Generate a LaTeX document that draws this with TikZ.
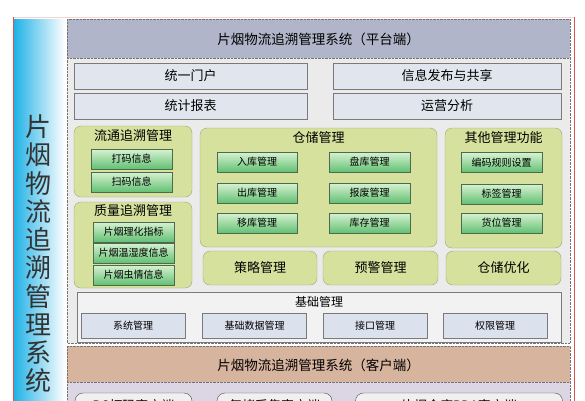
\documentclass[tikz,border=0pt]{standalone}
\usepackage{fontspec}
\newfontfamily\cjk{Noto Sans CJK SC}
\usetikzlibrary{positioning}
\definecolor{framered}{HTML}{D9534F}
\definecolor{framepink}{HTML}{F2D4D4}
\definecolor{sidecyan}{HTML}{22B2E6}
\definecolor{headblue}{HTML}{B1B5C9}
\definecolor{bodygray}{HTML}{EBEBEB}
\definecolor{topfill}{HTML}{E1E5EE}
\definecolor{boxline}{HTML}{7A7A7A}
\definecolor{panelgreen}{HTML}{D5E19C}
\definecolor{panelline}{HTML}{9AA67A}
\definecolor{subtop}{HTML}{D8F2D2}
\definecolor{subbot}{HTML}{62C073}
\definecolor{subline}{HTML}{4D6A50}
\definecolor{basefill}{HTML}{F2F2F2}
\definecolor{basesub}{HTML}{DCE1EE}
\definecolor{clienttan}{HTML}{D7B49E}
\definecolor{clientlav}{HTML}{DCD6E4}
\definecolor{clientbox}{HTML}{F1F0F1}
\begin{document}
\begin{tikzpicture}[x=1pt,y=-1pt,
    every node/.style={inner sep=0pt, outer sep=0pt, font=\cjk},
    topbox/.style={draw=boxline, fill=topfill, minimum height=26pt, font=\cjk\fontsize{13}{13}\selectfont},
    greenpanel/.style={draw=panelline, fill=panelgreen, rounded corners=7pt},
    paneltitle/.style={font=\cjk\fontsize{13}{13}\selectfont},
    subbox/.style={draw=subline, top color=subtop, bottom color=subbot, minimum width=81pt, minimum height=20pt, font=\cjk\fontsize{10}{10}\selectfont},
    basebox/.style={draw=boxline, fill=basesub, minimum width=104pt, minimum height=25pt, font=\cjk\fontsize{10}{10}\selectfont},
    clientnode/.style={draw=black!70, fill=clientbox, rounded corners=8pt, minimum height=26pt, font=\cjk\fontsize{13}{13}\selectfont}]
    \useasboundingbox (0,0) rectangle (585,400);
    \clip (0,0) rectangle (585,400);
    \fill[white] (0,0) rectangle (585,400);

    % outer frame and side column
    \shade[left color=sidecyan, right color=white] (14,19) rectangle (65,420);
    \draw[framepink] (13,17) -- (574,17);
    \draw[framered] (13,17) -- (13,420);
    \draw[framered] (574,17) -- (574,420);
    \foreach \c [count=\i from 0] in {片,烟,物,流,追,溯,管,理,系,统}
        \node[font=\cjk\fontsize{26}{26}\selectfont, text=black!80] (side\i) at (38,{127+28.2*\i}) {\c};

    % platform part
    \fill[bodygray] (67,19) rectangle (570,343);
    \fill[headblue] (67,19) rectangle (570,58);
    \draw[black!55, densely dotted] (67,58) -- (570,58);
    \draw[black!55, densely dotted] (67,19) rectangle (570,343);
    \node[font=\cjk\fontsize{13.5}{13.5}\selectfont] (platform) at (318.5,39) {片烟物流追溯管理系统（平台端）};

    \node[topbox, minimum width=233pt] (portal) at (190.5,76) {统一门户};
    \node[topbox, minimum width=228pt] (publish) at (447,76) {信息发布与共享};
    \node[topbox, minimum width=233pt] (report) at (190.5,106) {统计报表};
    \node[topbox, minimum width=228pt] (operate) at (447,106) {运营分析};

    % circulation
    \node[greenpanel, minimum width=118pt, minimum height=71pt] (flow) at (133,161.5) {};
    \node[paneltitle] (flowT) at (133,136) {流通追溯管理};
    \node[subbox] (code) at (131.5,159) {打码信息};
    \node[subbox] (scan) at (131.5,182) {扫码信息};

    % quality
    \node[greenpanel, minimum width=118pt, minimum height=86pt] (quality) at (133,245) {};
    \node[paneltitle] (qualityT) at (133,211) {质量追溯管理};
    \node[subbox] (chem) at (133.5,232) {片烟理化指标};
    \node[subbox] (humid) at (133.5,253) {片烟温湿度信息};
    \node[subbox] (pest) at (133.5,275) {片烟虫情信息};

    % storage
    \node[greenpanel, minimum width=237pt, minimum height=119pt] (store) at (318.5,187.5) {};
    \node[paneltitle] (storeT) at (318.5,138) {仓储管理};
    \node[subbox, minimum width=80pt] (inbound) at (257,162) {入库管理};
    \node[subbox] (count) at (369.5,162) {盘库管理};
    \node[subbox, minimum width=80pt] (outbound) at (257,193) {出库管理};
    \node[subbox] (scrap) at (369.5,193) {报废管理};
    \node[subbox, minimum width=80pt] (move) at (257,223) {移库管理};
    \node[subbox] (stock) at (369.5,223) {库存管理};

    % others
    \node[greenpanel, minimum width=117pt, minimum height=120pt] (other) at (503.5,188) {};
    \node[paneltitle] (otherT) at (503.5,138) {其他管理功能};
    \node[subbox] (rule) at (501.5,162.5) {编码规则设置};
    \node[subbox] (label) at (501.5,194) {标签管理};
    \node[subbox] (slot) at (501.5,223) {货位管理};

    \node[greenpanel, paneltitle, minimum width=114pt, minimum height=34pt] (policy) at (260,268) {策略管理};
    \node[greenpanel, paneltitle, minimum width=115pt, minimum height=34pt] (alarm) at (380.5,268) {预警管理};
    \node[greenpanel, paneltitle, minimum width=115pt, minimum height=34pt] (optim) at (503.5,268) {仓储优化};

    % basic
    \node[draw=boxline, fill=basefill, minimum width=484pt, minimum height=50pt] (base) at (319,317) {};
    \node[font=\cjk\fontsize{12}{12}\selectfont] (baseT) at (319,302) {基础管理};
    \node[basebox] (sys) at (133,325.5) {系统管理};
    \node[basebox] (data) at (254.5,325.5) {基础数据管理};
    \node[basebox] (iface) at (375,325.5) {接口管理};
    \node[basebox] (right) at (495,325.5) {权限管理};

    % client part
    \fill[clientlav] (67,346) rectangle (570,420);
    \fill[clienttan] (67,346) rectangle (570,382);
    \draw[black!55, densely dotted] (67,382) -- (570,382);
    \draw[black!55, densely dotted] (67,346) rectangle (570,420);
    \node[font=\cjk\fontsize{13.5}{13.5}\selectfont] (client) at (318.5,365) {片烟物流追溯管理系统（客户端）};
    \node[clientnode, minimum width=117pt] (pc) at (133.5,406) {PC打码客户端};
    \node[clientnode, minimum width=115pt] (redry) at (274.5,406) {复烤采集客户端};
    \node[clientnode, minimum width=207pt] (pda) at (459,406) {片烟仓库PDA客户端};
\end{tikzpicture}
\end{document}
